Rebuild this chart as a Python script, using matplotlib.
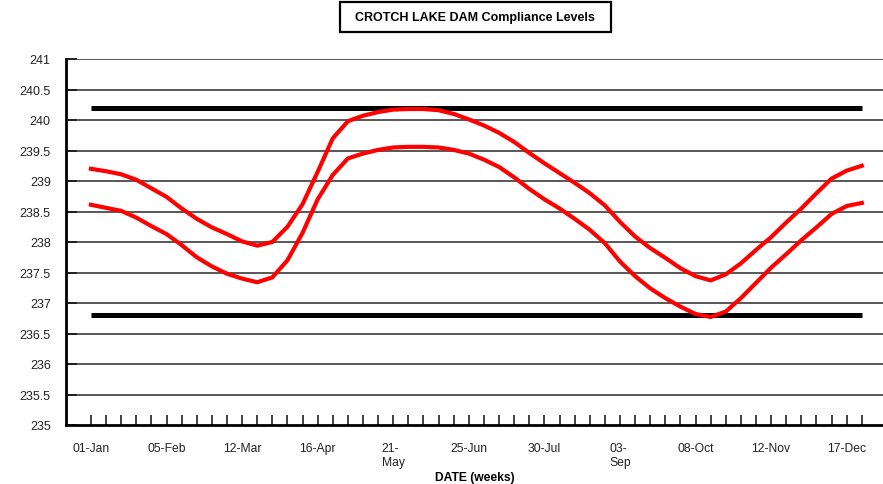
import numpy as np
import matplotlib
matplotlib.use("Agg")
import matplotlib.pyplot as plt
from matplotlib.patches import Rectangle

plt.rcParams['font.family'] = ['Liberation Sans', 'DejaVu Sans']

# weekly compliance band (m), weeks 0..51 starting 01-Jan
weeks = np.arange(52)
upper_level = [239.20, 239.16, 239.11, 239.02, 238.88, 238.74, 238.55, 238.38, 238.24, 238.13,
               238.01, 237.94, 238.00, 238.25, 238.62, 239.15, 239.70, 239.98, 240.07, 240.13,
               240.17, 240.18, 240.18, 240.16, 240.10, 240.01, 239.91, 239.79, 239.64, 239.46,
               239.29, 239.13, 238.97, 238.80, 238.60, 238.33, 238.09, 237.90, 237.74, 237.57,
               237.44, 237.37, 237.47, 237.65, 237.87, 238.08, 238.32, 238.55, 238.80, 239.04,
               239.17, 239.25]
lower_level = [238.61, 238.56, 238.51, 238.40, 238.26, 238.13, 237.95, 237.75, 237.60, 237.48,
               237.40, 237.34, 237.42, 237.70, 238.15, 238.70, 239.10, 239.37, 239.45, 239.51,
               239.55, 239.56, 239.56, 239.55, 239.51, 239.45, 239.35, 239.23, 239.06, 238.87,
               238.70, 238.55, 238.38, 238.20, 237.98, 237.68, 237.44, 237.24, 237.08, 236.94,
               236.82, 236.77, 236.86, 237.08, 237.33, 237.58, 237.80, 238.03, 238.24, 238.46,
               238.59, 238.64]
max_limit = 240.2
min_limit = 236.8

label_weeks = [0, 5, 10, 15, 20, 25, 30, 35, 40, 45, 50]
label_text = ["01-Jan", "05-Feb", "12-Mar", "16-Apr", "21-\nMay", "25-Jun",
              "30-Jul", "03-\nSep", "08-Oct", "12-Nov", "17-Dec"]

fig = plt.figure(figsize=(8.83, 4.85), dpi=100)
ax = fig.add_axes([66 / 883, 1 - 426 / 485, 817 / 883, 366 / 485])

for y in np.arange(235.5, 241.01, 0.5):
    ax.axhline(y, color="#4a4a4a", lw=1.3, zorder=1)

ax.plot(weeks, [max_limit] * len(weeks), color="black", lw=3.6, solid_capstyle="butt", zorder=3)
ax.plot(weeks, [min_limit] * len(weeks), color="black", lw=3.6, solid_capstyle="butt", zorder=3)
ax.plot(weeks, upper_level, color="#ff0000", lw=3.0, zorder=4)
ax.plot(weeks, lower_level, color="#ff0000", lw=3.0, zorder=4)

ax.set_xlim(-1.65, 52.4)
ax.set_ylim(235, 241)
ax.set_yticks(np.arange(235, 241.01, 0.5))
ax.set_yticklabels(["235", "235.5", "236", "236.5", "237", "237.5", "238",
                    "238.5", "239", "239.5", "240", "240.5", "241"])
ax.tick_params(axis="y", direction="in", length=8, width=1.4, color="#222222",
               pad=11, labelsize=9, labelcolor="#222222")

labels = [""] * len(weeks)
for w, t in zip(label_weeks, label_text):
    labels[w] = t
ax.set_xticks(weeks)
ax.set_xticklabels(labels)
ax.tick_params(axis="x", direction="in", length=7, width=1.2, color="#222222",
               pad=12, labelsize=8.7, labelcolor="#222222")
for lbl in ax.get_xticklabels():
    lbl.set_multialignment("left")
    lbl.set_linespacing(1.25)

for s in ["top", "right"]:
    ax.spines[s].set_visible(False)
ax.spines["left"].set_linewidth(2)
ax.spines["bottom"].set_linewidth(2)

fig.text(475 / 883, 1 - 478 / 485, "DATE (weeks)", ha="center", va="center",
         fontsize=8.7, fontweight="bold")

fig.patches.append(Rectangle((340 / 883, 1 - 33 / 485), 271 / 883, 30 / 485,
                             transform=fig.transFigure, fill=False, ec="black", lw=1.6))
fig.text(475 / 883, 1 - 18 / 485, "CROTCH LAKE DAM Compliance Levels", ha="center",
         va="center", fontsize=9, fontweight="bold")

fig.savefig("out.png", dpi=100)
